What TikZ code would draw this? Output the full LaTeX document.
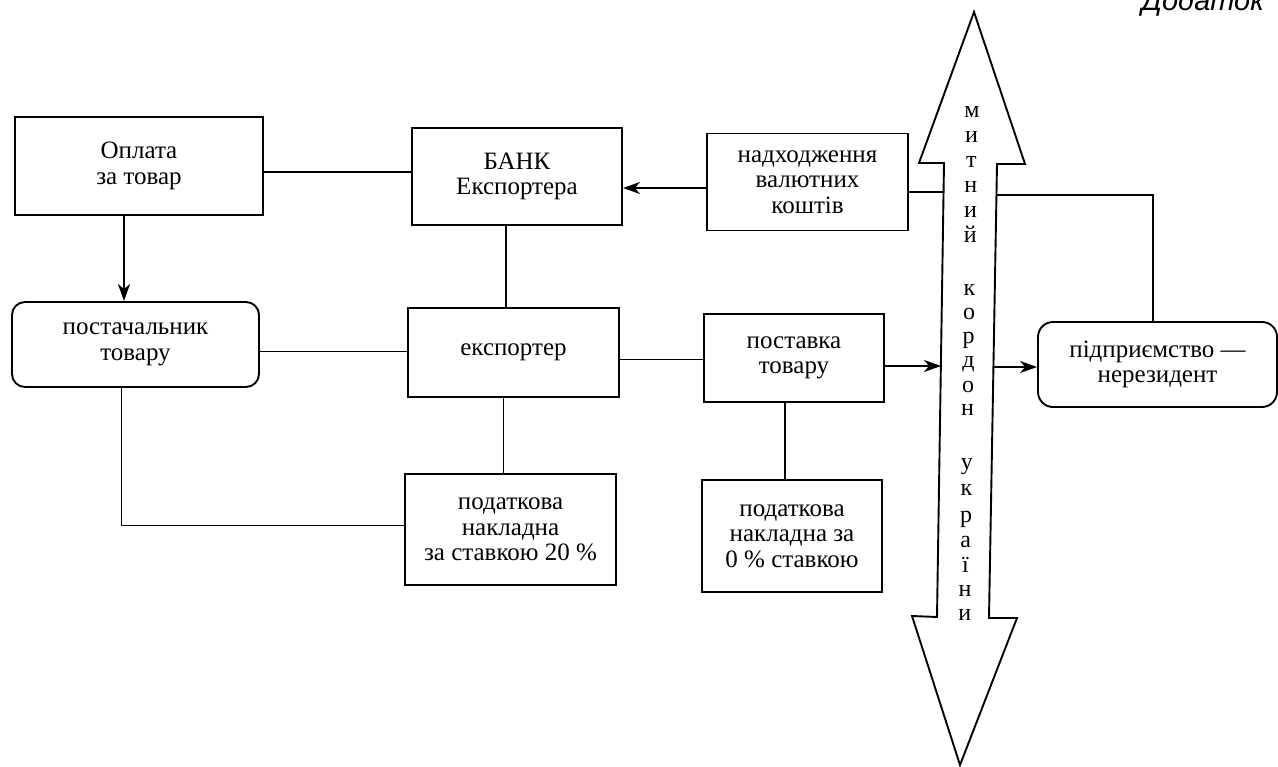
\documentclass[tikz,border=0pt]{standalone}
\usepackage{fontspec}
\setmainfont{Liberation Serif}
\setsansfont{Liberation Sans}
\usetikzlibrary{arrows.meta,calc}
\begin{document}
\begin{tikzpicture}[x=1pt,y=-1pt,
  line width=1.9pt,
  box/.style={draw, line width=1.9pt, align=center, inner sep=0pt,
    font=\fontsize{25}{25.5}\selectfont},
  rbox/.style={box, rounded corners=13pt},
  arr/.style={-{Stealth[length=17pt,width=12pt,inset=5pt]}},
  letter/.style={anchor=base, inner sep=0pt, font=\fontsize{24}{24}\selectfont},
]
\useasboundingbox (0,0) rectangle (1278,767);

% heading in the top corner
\node[anchor=base east, inner sep=0pt, font=\sffamily\itshape\fontsize{29}{29}\selectfont]
  (head) at (1265,11) {Додаток};

% blocks
\node[box, minimum width=248pt, minimum height=98pt] (opl) at (139,166) {Оплата\\за товар};
\node[rbox, minimum width=247pt, minimum height=85pt] (post) at (135.5,344.5) {постачальник\\товару};
\node[box, minimum width=210pt, minimum height=97pt] (bank) at (517,176.5) {БАНК\\Експортера};
\node[box, minimum width=201pt, minimum height=97pt] (nadh) at (807.5,182) {надходження\\валютних\\коштів};
\node[box, minimum width=211pt, minimum height=89pt] (exp) at (513.5,352.5) {експортер};
\node[box, minimum width=180pt, minimum height=88pt] (postavka) at (794,358) {поставка\\товару};
\node[box, minimum width=211pt, minimum height=111pt] (pod20) at (510.5,529.5) {податкова\\накладна\\за ставкою 20 \%};
\node[box, minimum width=180pt, minimum height=112pt] (pod0) at (792,536) {податкова\\накладна за\\0 \% ставкою};
\node[rbox, rounded corners=15pt, minimum width=239pt, minimum height=85pt] (nonres) at (1157.5,364.5) {підприємство —\\нерезидент};

% customs border: double-headed block arrow
\draw[line join=miter]
  (974,12) -- (1025,164) -- (997,164) -- (989,618) -- (1017,618) -- (960,765)
  -- (912,616) -- (937,617) -- (944,163) -- (919,163) -- cycle;
\foreach \ch/\yy [count=\i] in {м/112, и/137, т/162, н/187, и/212, й/237,
    к/290, о/314, р/338, д/362, о/386, н/410,
    у/463, к/489, р/516, а/541, ї/566, н/590, и/614}
  \node[letter] (l\i) at ({972-0.0146*(\yy-112)},{\yy+6}) {\ch};

% points where connectors meet the border arrow
\coordinate (sL1) at (944,192);
\coordinate (sR1) at (997,195);
\coordinate (sL2) at (941,366);
\coordinate (sR2) at (993,367);

% connectors
\draw[arr] ([xshift=-15pt]opl.south) -- ([xshift=-15pt]opl.south |- post.north);
\draw ([yshift=-6pt]opl.east) -- ([yshift=-6pt]opl.east -| bank.west);
\draw[arr] ([yshift=-6pt]nadh.west) -- ([yshift=-6pt]nadh.west -| bank.east);
\draw ([yshift=-10pt]nadh.east) -- (sL1);
\draw (sR1) -| ([xshift=-4.5pt]nonres.north);
\draw ([xshift=-11pt]bank.south) -- ([xshift=-11pt]bank.south |- exp.north);
\draw ([yshift=-7pt]post.east) -- ([yshift=-7pt]post.east -| exp.west);
\draw ([yshift=-7pt]exp.east) -- ([yshift=-7pt]exp.east -| postavka.west);
\draw[arr] ([yshift=-8pt]postavka.east) -- (sL2);
\draw[arr] (sR2) -- (sR2 -| nonres.west);
\draw ([xshift=-10pt]exp.south) -- ([xshift=-10pt]exp.south |- pod20.north);
\draw ([xshift=-14pt]post.south) |- ([yshift=4pt]pod20.west);
\draw ([xshift=-9pt]postavka.south) -- ([xshift=-9pt]postavka.south |- pod0.north);
\end{tikzpicture}
\end{document}
